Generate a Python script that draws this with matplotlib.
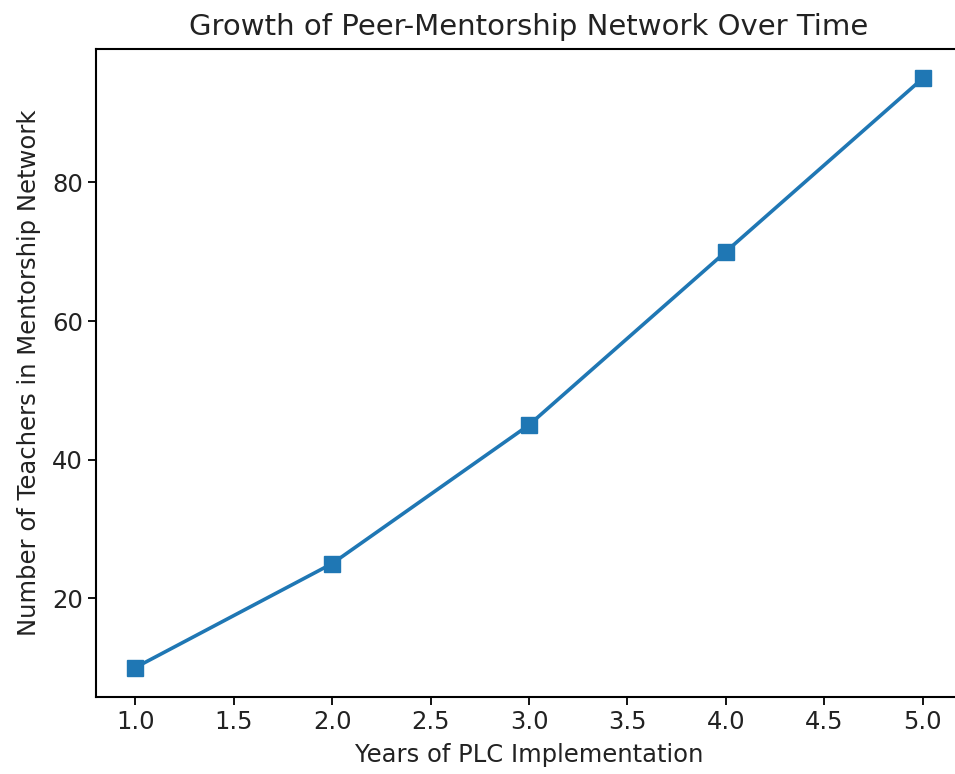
import matplotlib
matplotlib.use('Agg')
import matplotlib.pyplot as plt

# Data
years = [1, 2, 3, 4, 5]
teachers = [10, 25, 45, 70, 95]

W, H = 955, 774
fig = plt.figure(figsize=(W / 100, H / 100), dpi=100)

# axes box in pixels (left, top, right, bottom) - right edge runs past the canvas
left, top, right, bottom = 96, 49, 962, 697
ax = fig.add_axes([left / W, 1 - bottom / H, (right - left) / W, (bottom - top) / H])

ax.plot(years, teachers, marker='s', color='#1f77b4', linewidth=2.6, markersize=11)

ax.set_title('Growth of Peer-Mentorship Network Over Time', fontsize=21, pad=10,
             color='#222222')
ax.set_xlabel('Years of PLC Implementation', fontsize=17.5, color='#222222', labelpad=6)
ax.set_ylabel('Number of Teachers in Mentorship Network', fontsize=17.5, color='#222222',
              labelpad=8)
ax.tick_params(labelsize=17.5, length=6, width=1.3, labelcolor='#222222')
for s in ax.spines.values():
    s.set_linewidth(1.5)

fig.savefig('out.png', dpi=100, facecolor='white')
